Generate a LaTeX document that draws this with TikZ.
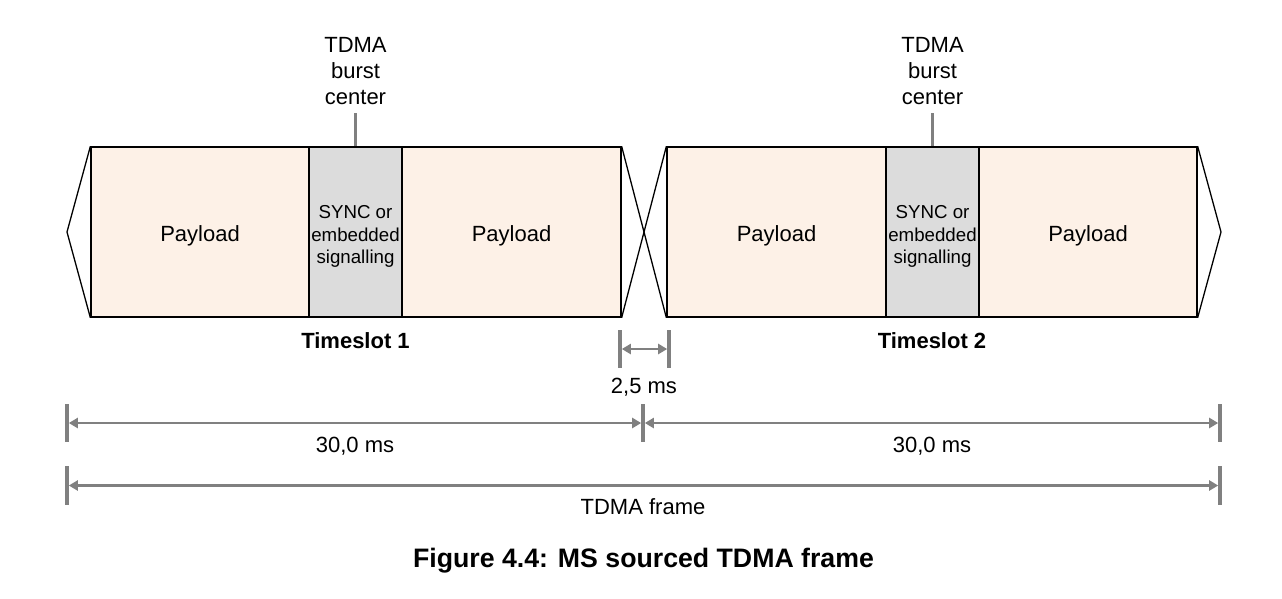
\documentclass[tikz,border=0pt]{standalone}
\usepackage{fontspec}
\setmainfont{Liberation Sans}
\usetikzlibrary{arrows.meta}
\definecolor{payfill}{HTML}{FDF1E7}
\definecolor{syncfill}{HTML}{DCDCDC}
\definecolor{dimgrey}{HTML}{808080}
\begin{document}
\begin{tikzpicture}[x=1pt,y=-1pt,
  slotpart/.style={draw=black,line width=1.3pt,minimum height=170pt,inner sep=0pt},
  payload/.style={slotpart,fill=payfill,font=\fontsize{22}{26}\selectfont,text height=18pt,text depth=0pt},
  syncbox/.style={slotpart,fill=syncfill,align=center,font=\fontsize{18.7}{22.4}\selectfont},
  outline/.style={draw=black,line width=1.3pt},
  lbl/.style={inner sep=0pt,align=center,font=\fontsize{22}{26.3}\selectfont},
  boldlbl/.style={inner sep=0pt,font=\bfseries\fontsize{22}{26}\selectfont},
  caption/.style={inner sep=0pt,font=\bfseries\fontsize{26.7}{32}\selectfont},
  bar/.style={draw=dimgrey,line width=3.6pt},
  burstline/.style={draw=dimgrey,line width=3.6pt},
  dimarrow/.style={draw=dimgrey,line width=2.8pt,{Triangle[length=9pt,width=10pt]}-{Triangle[length=9pt,width=10pt]}}
]
\useasboundingbox (0,0) rectangle (1282,598);

% timeslot 1
\node[payload,minimum width=218pt] (p1a) at (200,232) {Payload};
\node[syncbox,minimum width=93pt] (s1) at (355.5,232) {\rule{0pt}{22pt}SYNC or\\embedded\\signalling};
\node[payload,minimum width=219pt] (p1b) at (511.5,232) {Payload};
% timeslot 2
\node[payload,minimum width=219pt] (p2a) at (776.5,232) {Payload};
\node[syncbox,minimum width=93pt] (s2) at (932.5,232) {\rule{0pt}{22pt}SYNC or\\embedded\\signalling};
\node[payload,minimum width=218pt] (p2b) at (1088,232) {Payload};

% ramps
\coordinate (ltip) at (67,232);
\coordinate (rtip) at (1221,232);
\draw[outline] (p1a.north west) -- (ltip) -- (p1a.south west);
\draw[outline] (p2b.north east) -- (rtip) -- (p2b.south east);
\draw[outline] (p1b.north east) -- (p2a.south west);
\draw[outline] (p1b.south east) -- (p2a.north west);

% burst centers
\node[lbl] (bc1) at (355.5,71) {TDMA\\burst\\center};
\node[lbl] (bc2) at (932.5,71) {TDMA\\burst\\center};
\coordinate (bl1) at (355.5,113);
\coordinate (bl2) at (932.5,113);
\draw[burstline] (bl1) -- (s1.north);
\draw[burstline] (bl2) -- (s2.north);

% timeslot labels
\node[boldlbl,anchor=base] (ts1) at (355.5,348) {Timeslot 1};
\node[boldlbl,anchor=base] (ts2) at (932,348) {Timeslot 2};

% guard 2,5 ms
\coordinate (g1t) at (620,330); \coordinate (g1b) at (620,368);
\coordinate (g2t) at (669,330); \coordinate (g2b) at (669,368);
\draw[bar] (g1t) -- (g1b);
\draw[bar] (g2t) -- (g2b);
\coordinate (g1m) at (621.8,349); \coordinate (g2m) at (667.2,349);
\draw[dimarrow] (g1m) -- (g2m);
\node[lbl,anchor=base] (gl) at (644,393) {2,5 ms};

% 30,0 ms
\coordinate (a1t) at (67,404); \coordinate (a1b) at (67,442);
\coordinate (a2t) at (643,404); \coordinate (a2b) at (643,442);
\coordinate (a3t) at (1220,404); \coordinate (a3b) at (1220,442);
\draw[bar] (a1t) -- (a1b);
\draw[bar] (a2t) -- (a2b);
\draw[bar] (a3t) -- (a3b);
\coordinate (a1r) at (68.8,423); \coordinate (a2l) at (641.2,423);
\coordinate (a2r) at (644.8,423); \coordinate (a3l) at (1218.2,423);
\draw[dimarrow] (a1r) -- (a2l);
\draw[dimarrow] (a2r) -- (a3l);
\node[lbl,anchor=base] (d1) at (355,452.7) {30,0 ms};
\node[lbl,anchor=base] (d2) at (932,452.7) {30,0 ms};

% TDMA frame
\coordinate (f1t) at (67,466); \coordinate (f1b) at (67,505);
\coordinate (f2t) at (1220,466); \coordinate (f2b) at (1220,505);
\draw[bar] (f1t) -- (f1b);
\draw[bar] (f2t) -- (f2b);
\coordinate (f1r) at (68.8,485.5); \coordinate (f2l) at (1218.2,485.5);
\draw[dimarrow] (f1r) -- (f2l);
\node[lbl,anchor=base] (fl) at (643,514) {TDMA frame};

% caption
\node[caption,anchor=base] (cap) at (643.5,567) {Figure 4.4: MS sourced TDMA frame};
\end{tikzpicture}
\end{document}
